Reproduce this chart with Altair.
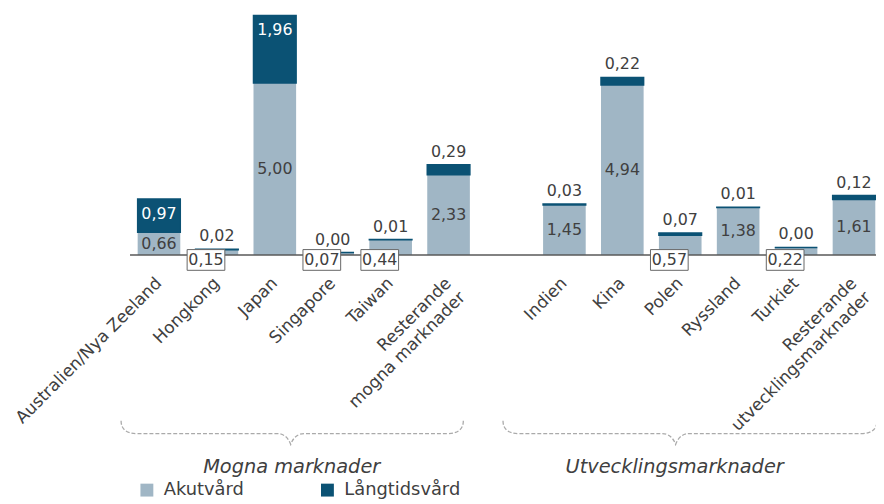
import altair as alt
import pandas as pd

# ---- data ----
mogna = ["Australien/Nya Zeeland", "Hongkong", "Japan", "Singapore", "Taiwan",
         "Resterande\nmogna marknader"]
utveckling = ["Indien", "Kina", "Polen", "Ryssland", "Turkiet",
              "Resterande\nutvecklingsmarknader"]
akutvard = [0.66, 0.15, 5.00, 0.07, 0.44, 2.33,
            1.45, 4.94, 0.57, 1.38, 0.22, 1.61]
langtidsvard = [0.97, 0.02, 1.96, 0.00, 0.01, 0.29,
                0.03, 0.22, 0.07, 0.01, 0.00, 0.12]
series = ["Akutvård", "Långtidsvård"]
groups = ["Mogna marknader", "Utvecklingsmarknader"]

# ---- styling ----
LIGHT = "#A0B6C5"
DARK = "#0B5274"
TXT = "#404040"
FONT = "DejaVu Sans"
W, H = 752, 247

cats = mogna + utveckling
domain = mogna + [" "] + utveckling

wide = pd.DataFrame({"cat": cats, "akut": akutvard, "lt": langtidsvard})
wide["total"] = wide["akut"] + wide["lt"]
wide["mid"] = wide["akut"] / 2

long = pd.concat([
    pd.DataFrame({"cat": cats, "series": series[0], "value": akutvard, "ord": 0}),
    pd.DataFrame({"cat": cats, "series": series[1], "value": langtidsvard, "ord": 1}),
])

xscale = alt.Scale(domain=domain, range=[0, 759], paddingInner=0.264, paddingOuter=0.132)
yscale = alt.Scale(domain=[0, H / 34.7], nice=False, zero=False)

Xn = alt.X("cat:N", scale=xscale, axis=None, sort=domain)

fmt = "replace(format(datum.v, '.2f'), '.', ',')"

bars = alt.Chart(long).mark_bar(stroke=DARK).encode(
    x=Xn,
    y=alt.Y("value:Q", stack="zero", scale=yscale, axis=None),
    color=alt.Color("series:N", scale=alt.Scale(domain=series, range=[LIGHT, DARK]),
                    legend=alt.Legend(orient="none", legendX=8, legendY=475,
                                      direction="horizontal", title=None,
                                      symbolType="square", symbolSize=169,
                                      symbolStrokeWidth=0, symbolOpacity=1,
                                      labelFont=FONT, labelFontSize=18, labelColor=TXT,
                                      labelOffset=8, columnPadding=75)),
    order=alt.Order("ord:Q"),
    strokeWidth=alt.condition("datum.series == 'Långtidsvård'", alt.value(1.5), alt.value(0)),
)

# baseline (x axis line)
baseline = alt.Chart(pd.DataFrame({"z": [0]})).mark_rule(
    color="#595959", strokeWidth=1.5).encode(
    x=alt.value(0), x2=alt.value(W + 20), y=alt.value(H))

# category labels (rotated)
catlabels = alt.Chart(wide).mark_text(
    font=FONT, fontSize=17, color=TXT, angle=315, align="right", baseline="middle",
    lineBreak="\n", lineHeight=20).encode(
    x=Xn, y=alt.value(H + 26), text="cat:N")

base = alt.Chart(wide)
akut_in = base.transform_filter("datum.akut >= 0.6").transform_calculate(
    v="datum.akut").transform_calculate(lab=fmt).mark_text(
    font=FONT, fontSize=16, color=TXT, baseline="middle").encode(
    x=Xn, y=alt.Y("mid:Q", scale=yscale, axis=None), text="lab:N")

box = base.transform_filter("datum.akut < 0.6").transform_calculate(zero="0").mark_point(
    shape="M-1,-0.55L1,-0.55L1,0.55L-1,0.55Z", size=1444, fill="white", filled=False,
    stroke="#666666", strokeWidth=1, opacity=1, fillOpacity=1, xOffset=-11, yOffset=5).encode(
    x=Xn, y=alt.Y("zero:Q", scale=yscale, axis=None))

akut_box = base.transform_filter("datum.akut < 0.6").transform_calculate(
    v="datum.akut").transform_calculate(lab=fmt, zero="0").mark_text(
    font=FONT, fontSize=16, color=TXT, baseline="middle", dx=-11, dy=5).encode(
    x=Xn, y=alt.Y("zero:Q", scale=yscale, axis=None), text="lab:N")

lt_in = base.transform_filter("datum.lt > 0.5").transform_calculate(
    v="datum.lt").transform_calculate(lab=fmt).mark_text(
    font=FONT, fontSize=16, color="white", baseline="middle", dy=15).encode(
    x=Xn, y=alt.Y("total:Q", scale=yscale, axis=None), text="lab:N")

lt_out = base.transform_filter("datum.lt <= 0.5").transform_calculate(
    v="datum.lt").transform_calculate(lab=fmt).mark_text(
    font=FONT, fontSize=16, color=TXT, baseline="middle", dy=-13).encode(
    x=Xn, y=alt.Y("total:Q", scale=yscale, axis=None), text="lab:N")

# ---- decorations: braces (symbol paths in plot pixels) and group titles ----
def brace_path(x0, tip, x1, ytop=414, ymid=427, ytip=438):
    return (f"M{x0},{ytop} Q{x0},{ymid} {x0 + 16},{ymid} L{tip - 14},{ymid} "
            f"Q{tip - 4},{ymid} {tip},{ytip} Q{tip + 4},{ymid} {tip + 14},{ymid} "
            f"L{x1 - 16},{ymid} Q{x1},{ymid} {x1},{ytop}")

brace_layers = []
for g, (x0, tip, x1) in zip(groups, [(-9, 162, 336), (376, 550, 753)]):
    brace_layers.append(
        alt.Chart(pd.DataFrame({"g": [g]})).mark_point(
            shape=brace_path(x0, tip, x1), size=4, filled=False, color="#AAAAAA",
            strokeWidth=1.3, strokeDash=[4, 2], opacity=1).encode(
            x=alt.value(0), y=alt.value(0)))

glabel_layers = []
for g, gx in zip(groups, [163, 549]):
    glabel_layers.append(
        alt.Chart(pd.DataFrame({"g": [g]})).mark_text(
            font=FONT, fontSize=19.5, fontStyle="italic", color=TXT,
            baseline="middle").encode(x=alt.value(gx), y=alt.value(461), text="g:N"))

chart = alt.layer(bars, baseline, catlabels, akut_in, box, akut_box, lt_in, lt_out,
                  *brace_layers, *glabel_layers).properties(
    width=W, height=H,
    autosize=alt.AutoSizeParams(type="none"),
    padding={"left": 123, "top": 0, "right": 0, "bottom": 247},
).configure(font=FONT).configure_view(strokeWidth=0, stroke="transparent")

chart.save("out.html", embed_options={"renderer": "svg", "actions": False})
